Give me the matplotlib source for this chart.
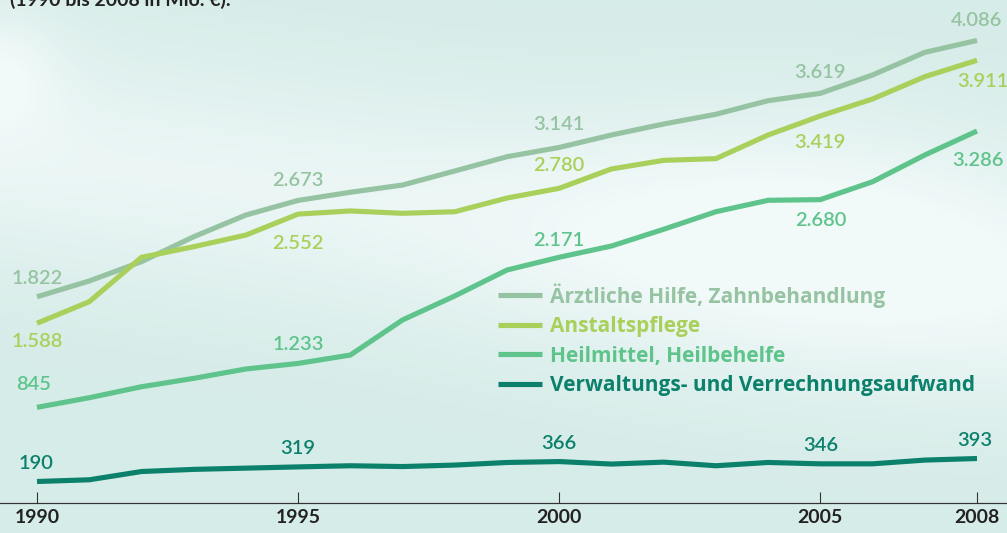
import numpy as np
import matplotlib
matplotlib.use("Agg")
import matplotlib.pyplot as plt
from matplotlib.colors import to_rgb

years = list(range(1990, 2009))
aerztlich = [1822, 1961, 2132, 2352, 2544, 2673, 2745, 2809, 2933, 3059, 3141,
             3251, 3348, 3434, 3554, 3619, 3781, 3981, 4086]
anstalt = [1588, 1778, 2170, 2264, 2367, 2552, 2580, 2559, 2573, 2694, 2780,
           2951, 3027, 3042, 3251, 3419, 3569, 3766, 3911]
heilmittel = [845, 930, 1027, 1101, 1184, 1233, 1307, 1617, 1829, 2058, 2171,
              2270, 2418, 2573, 2674, 2680, 2838, 3074, 3286]
verwaltung = [190, 205, 278, 297, 308, 319, 329, 322, 335, 358, 366,
              344, 361, 329, 358, 346, 346, 379, 393]
series_names = ["Ärztliche Hilfe, Zahnbehandlung", "Anstaltspflege",
                "Heilmittel, Heilbehelfe", "Verwaltungs- und Verrechnungsaufwand"]
tick_years = [1990, 1995, 2000, 2005, 2008]
subtitle = "(1990 bis 2008 in Mio. €)."

colors = ["#96c3a2", "#a9d05a", "#5ec48b", "#0b806b"]
series = [aerztlich, anstalt, heilmittel, verwaltung]
# label offsets in pixels for labelled years
offsets = [
    [(0, 18), (0, 20), (0, 23), (0, 21), (0, 20)],
    [(0, -18), (0, -29), (0, 23), (0, -27), (6, -21)],
    [(-3, 23), (0, 19), (0, 17), (0, -21), (1, -29)],
    [(-1, 18), (0, 18), (0, 18), (0, 18), (-2, 18)],
]

W, H = 1007, 533
fig = plt.figure(figsize=(W / 100, H / 100), dpi=100)

# background gradient
yy, xx = np.mgrid[0:H, 0:W]
base = np.array(to_rgb("#d6ece8"))
light = np.array(to_rgb("#f1f9f9"))
d = (yy - (150 + xx * 0.14))
band = np.exp(-(d / 120.0) ** 2)
blob = np.exp(-(((xx - 820) / 260.0) ** 2 + ((yy - 230) / 130.0) ** 2))
corner = np.exp(-(((xx - 0) / 60.0) ** 2 + ((yy - 70) / 60.0) ** 2)) * 0.6
t = np.clip(0.75 * band + 0.6 * blob + corner, 0, 1)[..., None]
img = base * (1 - t) + light * t
bg = fig.add_axes([0, 0, 1, 1])
bg.imshow(img, aspect="auto", extent=[0, 1, 0, 1], zorder=0)
bg.axis("off")

ax = fig.add_axes([0, 0, 1, 1])
ax.patch.set_alpha(0)
px_per_year = 52.22
ax.set_xlim(1990 - 37 / px_per_year, 2008 + 30 / px_per_year)
py = 0.1132
ax.set_ylim(-30 / py, 503 / py)

font = "Lato"
for s, c, name, offs in zip(series, colors, series_names, offsets):
    ax.plot(years, s, color=c, lw=3.7, solid_joinstyle="miter", label=name,
            solid_capstyle="butt", zorder=3)
    for ty, (dx, dy) in zip(tick_years, offs):
        v = s[years.index(ty)]
        txt = f"{v:,}".replace(",", ".")
        ax.annotate(txt, (ty, v), xytext=(dx, dy), textcoords="offset pixels",
                    ha="center", va="center", color=c, fontsize=14.5,
                    family=font, fontweight="semibold", zorder=4)

for sp in ["top", "right", "left"]:
    ax.spines[sp].set_visible(False)
ax.spines["bottom"].set_position(("data", 0))
ax.spines["bottom"].set_color("#333333")
ax.spines["bottom"].set_linewidth(0.8)
ax.set_yticks([])
ax.set_xticks(tick_years)
ax.set_xticklabels([str(t) for t in tick_years], family=font, fontsize=14,
                   fontweight="bold", color="#222222")
ax.tick_params(axis="x", direction="in", length=8, width=0.8, color="#333333",
               pad=4)
ax.axhline(0, xmin=0, xmax=1, color="#333333", lw=0.8)

fs_leg = 15
em = fs_leg * 100 / 72
leg = ax.legend(loc="upper left", bbox_to_anchor=(498 / W, 1 - 283 / H),
                frameon=False, handlelength=44 / em, handletextpad=8 / em,
                labelspacing=0.41, borderaxespad=0, borderpad=0,
                prop={"family": "Open Sans", "weight": "bold", "size": fs_leg})
for text, c in zip(leg.get_texts(), colors):
    text.set_color(c)

fig.text(10 / W, 1 - 6 / H, subtitle, ha="left", va="baseline", fontsize=14,
         family=font, fontweight="bold", color="#222222")

fig.savefig("out.png", dpi=100)
